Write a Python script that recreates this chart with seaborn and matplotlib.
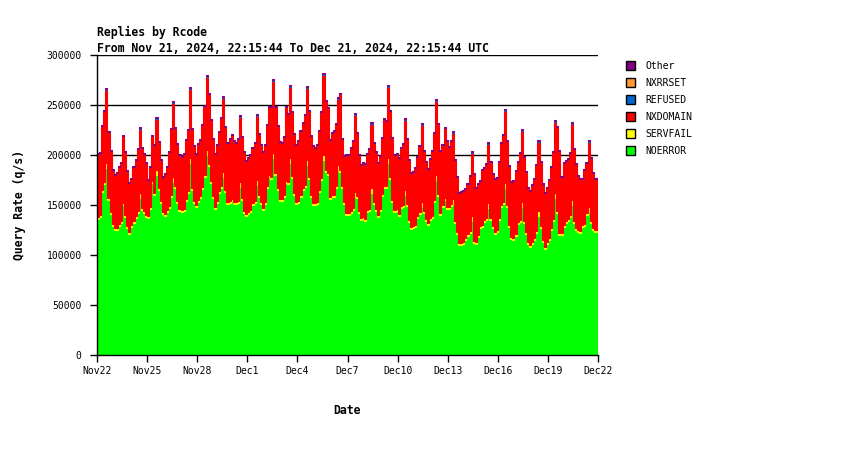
import numpy as np
import pandas as pd
import matplotlib
matplotlib.use("Agg")
import matplotlib.pyplot as plt
from matplotlib.patches import Patch
import seaborn as sns

# 3-hour bins from Nov22 00:00 to Dec22 00:00, one line = one day (8 bins)
# all rates in thousands of queries per second
noerror = [
    136, 138, 163, 171, 187, 155, 141, 129,
    125, 125, 129, 132, 150, 138, 127, 121,
    128, 132, 137, 142, 157, 145, 142, 138,
    137, 146, 172, 160, 180, 165, 152, 141,
    139, 143, 147, 158, 173, 167, 152, 144,
    143, 144, 154, 162, 192, 165, 152, 148,
    153, 157, 166, 178, 200, 189, 172, 157,
    146, 152, 162, 167, 178, 163, 151, 152,
    154, 151, 151, 152, 168, 155, 142, 139,
    141, 143, 150, 152, 170, 158, 151, 145,
    151, 167, 178, 176, 197, 180, 165, 154,
    154, 158, 172, 171, 192, 177, 160, 151,
    152, 158, 165, 168, 190, 176, 158, 150,
    150, 151, 163, 175, 195, 183, 180, 156,
    158, 158, 167, 185, 183, 167, 151, 140,
    140, 142, 145, 158, 157, 142, 135, 136,
    134, 143, 144, 162, 151, 144, 138, 144,
    159, 167, 167, 192, 176, 153, 143, 144,
    139, 147, 148, 160, 149, 133, 126, 127,
    128, 137, 141, 148, 142, 134, 130, 135,
    137, 153, 175, 159, 140, 148, 155, 146,
    146, 149, 151, 132, 121, 110, 110, 111,
    115, 119, 122, 134, 112, 111, 118, 127,
    128, 133, 135, 147, 135, 127, 121, 123,
    135, 148, 151, 167, 148, 128, 116, 115,
    119, 131, 133, 148, 132, 121, 111, 108,
    111, 115, 122, 139, 127, 113, 106, 111,
    115, 125, 134, 157, 142, 120, 120, 128,
    132, 134, 138, 150, 132, 125, 123, 122,
    128, 129, 140, 143, 132, 125, 123, 123,
]

nxdomain = [
    63, 62, 64, 71, 73, 66, 61, 54,
    53, 55, 57, 58, 67, 63, 55, 49,
    46, 54, 56, 62, 64, 60, 57, 52,
    36, 40, 45, 48, 51, 46, 41, 35,
    40, 43, 54, 66, 74, 58, 57, 54,
    53, 55, 59, 61, 69, 59, 55, 51,
    56, 56, 62, 69, 73, 70, 61, 57,
    53, 56, 59, 68, 74, 63, 59, 62,
    64, 61, 59, 62, 65, 61, 59, 53,
    54, 55, 55, 58, 64, 61, 57, 56,
    57, 61, 68, 70, 72, 66, 62, 57,
    56, 58, 74, 68, 71, 64, 59, 57,
    60, 64, 65, 70, 72, 66, 59, 57,
    55, 57, 59, 66, 80, 69, 65, 57,
    62, 64, 62, 66, 76, 47, 46, 58,
    58, 63, 67, 77, 63, 56, 53, 54,
    55, 56, 60, 64, 59, 57, 52, 53,
    56, 67, 65, 71, 66, 62, 55, 55,
    56, 58, 61, 70, 65, 60, 54, 54,
    57, 59, 66, 77, 60, 57, 54, 59,
    65, 67, 74, 70, 62, 60, 70, 66,
    60, 63, 66, 61, 55, 50, 51, 51,
    49, 50, 55, 63, 67, 54, 51, 45,
    55, 52, 54, 59, 56, 52, 53, 52,
    56, 62, 67, 72, 64, 59, 55, 57,
    63, 60, 67, 71, 64, 60, 54, 54,
    57, 59, 66, 69, 64, 56, 54, 54,
    58, 61, 67, 71, 84, 82, 56, 62,
    60, 60, 62, 76, 72, 64, 54, 52,
    46, 54, 50, 65, 63, 55, 51, 51,
]

servfail = [
    2, 2, 2, 2, 5, 2, 2, 2,
    2, 2, 2, 2, 2, 2, 2, 2,
    2, 2, 2, 2, 5, 2, 2, 2,
    2, 2, 2, 2, 5, 2, 2, 2,
    2, 2, 2, 2, 5, 2, 2, 2,
    2, 2, 2, 2, 5, 2, 2, 2,
    2, 2, 2, 2, 5, 2, 2, 2,
    2, 2, 2, 2, 5, 2, 2, 2,
    2, 2, 2, 2, 5, 2, 2, 2,
    2, 2, 2, 2, 5, 2, 2, 2,
    2, 2, 2, 2, 5, 2, 2, 2,
    2, 2, 2, 2, 5, 2, 2, 2,
    2, 2, 2, 2, 5, 2, 2, 2,
    2, 2, 2, 2, 5, 2, 2, 2,
    2, 2, 2, 5, 2, 2, 2, 2,
    2, 2, 2, 5, 2, 2, 2, 2,
    2, 2, 2, 5, 2, 2, 2, 2,
    2, 2, 2, 5, 2, 2, 2, 2,
    2, 2, 2, 5, 2, 2, 2, 2,
    2, 2, 2, 5, 2, 2, 2, 2,
    2, 2, 5, 2, 2, 2, 2, 2,
    2, 2, 5, 2, 2, 2, 2, 2,
    2, 2, 2, 5, 2, 2, 2, 2,
    2, 2, 2, 5, 2, 2, 2, 2,
    2, 2, 2, 5, 2, 2, 2, 2,
    2, 2, 2, 5, 2, 2, 2, 2,
    2, 2, 2, 5, 2, 2, 2, 2,
    2, 2, 2, 5, 2, 2, 2, 2,
    2, 2, 2, 5, 2, 2, 2, 2,
    2, 2, 2, 5, 2, 2, 2, 2,
]

refused = [
    0, 0, 0, 0, 1, 0, 0, 0,
    0, 0, 0, 0, 0, 0, 0, 0,
    0, 0, 0, 0, 1, 0, 0, 0,
    0, 0, 0, 0, 1, 0, 0, 0,
    0, 0, 0, 0, 1, 0, 0, 0,
    0, 0, 0, 0, 1, 0, 0, 0,
    0, 0, 0, 0, 1, 0, 0, 0,
    0, 0, 0, 0, 1, 0, 0, 0,
    0, 0, 0, 0, 1, 0, 0, 0,
    0, 0, 0, 0, 1, 0, 0, 0,
    0, 0, 0, 0, 1, 0, 0, 0,
    0, 0, 0, 0, 1, 0, 0, 0,
    0, 0, 0, 0, 1, 0, 0, 0,
    0, 0, 0, 0, 1, 0, 0, 0,
    0, 0, 0, 1, 0, 0, 0, 0,
    0, 0, 0, 1, 0, 0, 0, 0,
    0, 0, 0, 1, 0, 0, 0, 0,
    0, 0, 0, 1, 0, 0, 0, 0,
    0, 0, 0, 1, 0, 0, 0, 0,
    0, 0, 0, 1, 0, 0, 0, 0,
    0, 0, 1, 0, 0, 0, 0, 0,
    0, 0, 1, 0, 0, 0, 0, 0,
    0, 0, 0, 1, 0, 0, 0, 0,
    0, 0, 0, 1, 0, 0, 0, 0,
    0, 0, 0, 1, 0, 0, 0, 0,
    0, 0, 0, 1, 0, 0, 0, 0,
    0, 0, 0, 1, 0, 0, 0, 0,
    0, 0, 0, 1, 0, 0, 0, 0,
    0, 0, 0, 1, 0, 0, 0, 0,
    0, 0, 0, 1, 0, 0, 0, 0,
]

# NXRRSET and Other are tiny, same value in every bin
nxrrset = [0] * 240
other = [1] * 240

rcodes = ["Other", "NXRRSET", "REFUSED", "NXDOMAIN", "SERVFAIL", "NOERROR"]
colors = ["#800080", "#ff9933", "#0066cc", "#ff0000", "#ffff00", "#00ff00"]

day_ticks = [0, 3, 6, 9, 12, 15, 18, 21, 24, 27, 30]
day_labels = ["Nov22", "Nov25", "Nov28", "Dec1", "Dec4", "Dec7",
              "Dec10", "Dec13", "Dec16", "Dec19", "Dec22"]
rate_ticks = [0, 50000, 100000, 150000, 200000, 250000, 300000]

# long table for seaborn, one row per bin and rcode
series = dict(zip(rcodes, [other, nxrrset, refused, nxdomain, servfail, noerror]))
n = len(noerror)
centers = (np.arange(n) + 0.5) / 8
df = pd.concat([pd.DataFrame({"day": centers, "rcode": k, "rate": np.array(v) * 1000.0})
                for k, v in series.items()], ignore_index=True)

plt.rcParams["font.family"] = "DejaVu Sans Mono"

fig = plt.figure(figsize=(8.5, 4.5), dpi=100)
ax = fig.add_axes([97 / 850, 95 / 450, 501 / 850, 300 / 450])

sns.histplot(data=df, x="day", weights="rate", hue="rcode", hue_order=rcodes,
             palette=colors, multiple="stack", bins=n, binrange=(0, 30),
             element="bars", linewidth=0, alpha=1, legend=False, ax=ax)

# edge in the face colour closes the hairline seams between neighbouring bins
for p in ax.patches:
    p.set_edgecolor(p.get_facecolor())
    p.set_linewidth(0.8)

ax.set_xlim(0, 30)
ax.set_ylim(0, 300000)
ax.set_xticks(day_ticks)
ax.set_xticklabels(day_labels)
ax.set_yticks(rate_ticks)
ax.set_yticklabels([str(v) for v in rate_ticks])
ax.tick_params(axis="both", labelsize=7, length=5, width=1, color="black")
ax.tick_params(axis="y", pad=6)
ax.tick_params(axis="x", pad=3)

ax.yaxis.grid(True, color="black", linewidth=1)
ax.set_axisbelow(True)
for s in ["top", "right"]:
    ax.spines[s].set_visible(False)
for s in ["left", "bottom"]:
    ax.spines[s].set_color("black")
    ax.spines[s].set_linewidth(1)
    ax.spines[s].set_zorder(5)

ax.set_xlabel("Date", fontsize=8.3, fontweight="bold")
ax.xaxis.set_label_coords(0.5, -0.165)
ax.set_ylabel("Query Rate (q/s)", fontsize=8.3, fontweight="bold")
ax.yaxis.set_label_coords(-0.142, 0.5)

fig.text(97 / 850, 1 - 32 / 450, "Replies by Rcode", fontsize=8.3,
         fontweight="bold", va="center", ha="left")
fig.text(97 / 850, 1 - 48 / 450,
         "From Nov 21, 2024, 22:15:44 To Dec 21, 2024, 22:15:44 UTC",
         fontsize=8.3, fontweight="bold", va="center", ha="left")

handles = [Patch(facecolor=c, edgecolor="black", linewidth=1, label=r)
           for r, c in zip(rcodes, colors)]
ax.legend(handles=handles, loc="upper left", bbox_to_anchor=(626 / 850, 1 - 61 / 450),
          bbox_transform=fig.transFigure, frameon=False, fontsize=7,
          handlelength=0.95, handleheight=0.95, handletextpad=1.05,
          labelspacing=0.72, borderaxespad=0, borderpad=0)

fig.savefig("out.png", dpi=100, facecolor="white")
